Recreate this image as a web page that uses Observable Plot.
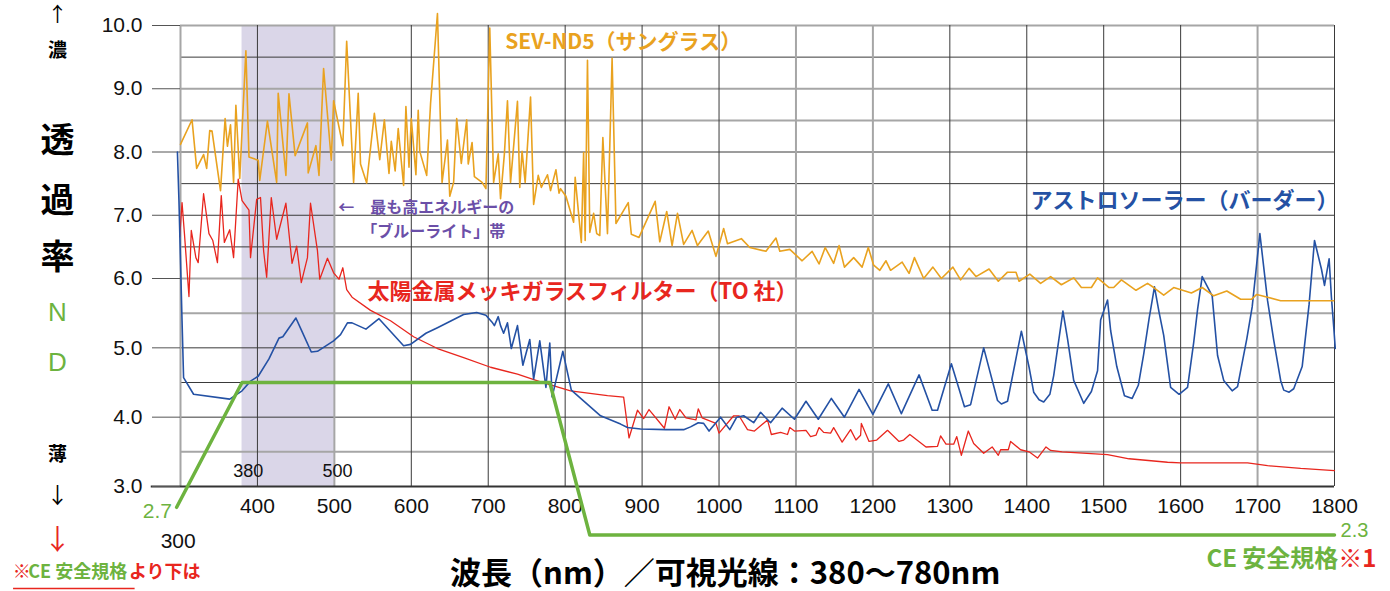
<!DOCTYPE html>
<html>
<head>
<meta charset="utf-8">
<script src="https://cdn.jsdelivr.net/npm/d3@7"></script>
<script src="https://cdn.jsdelivr.net/npm/@observablehq/plot@0.6"></script>
<style>
  html, body { margin: 0; padding: 0; background: #fff; }
  #chart svg { display: block; }
</style>
</head>
<body>
<div id="chart"></div>
<script>
// ---------- DATA ----------
// SEV-ND5 (sunglasses) – orange
const orangeNm = [300,315,321,330,334,338,341,352,358,361,365,369,372,377,385,389,401,403,413,425,427,437,441,449,465,466,476,480,486,496,499,511,516,525,531,534,542,552,559,565,571,574,579,583,590,593,597,600,606,609,611,620,625,634,640,647,650,655,659,665,672,674,679,682,692,697,702,707,713,716,721,725,729,738,741,744,748,755,759,765,769,777,781,788,792,794,801,811,813,821,824,826,829,832,837,841,845,849,855,861,866,882,886,896,917,923,932,939,946,954,965,972,976,986,996,1006,1011,1029,1040,1061,1074,1079,1092,1108,1121,1130,1138,1149,1156,1163,1175,1186,1194,1201,1209,1217,1223,1238,1247,1254,1266,1278,1289,1304,1314,1325,1334,1351,1363,1375,1386,1390,1404,1418,1431,1445,1461,1471,1484,1492,1507,1513,1523,1542,1557,1565,1578,1591,1614,1628,1643,1660,1678,1692,1699,1713,1730,1799];
const orangeNd = [8.12,8.51,7.74,7.96,7.74,8.34,8.33,7.39,8.53,8.09,8.43,7.52,8.74,7.58,9.60,7.92,7.87,7.55,8.49,7.52,8.93,7.63,8.92,7.94,8.46,7.67,8.10,7.63,9.32,7.87,8.81,8.10,9.75,7.52,8.93,7.81,7.51,8.61,7.88,8.51,7.66,8.17,7.70,8.37,7.47,8.72,7.76,8.53,7.64,8.66,8.01,7.63,8.76,10.19,7.52,8.19,7.30,7.52,8.53,7.82,8.51,7.81,8.15,7.61,7.52,7.42,9.96,7.52,7.97,7.26,7.97,8.81,7.52,8.80,7.44,8.01,7.52,8.87,7.17,7.63,7.44,7.64,7.39,7.72,7.35,7.42,7.30,6.89,7.60,6.57,7.99,6.60,9.45,6.73,7.03,6.71,6.68,8.23,6.71,9.48,6.87,7.20,6.70,6.65,7.22,6.58,7.06,6.52,7.03,6.54,6.76,6.52,6.59,6.75,6.35,6.79,6.55,6.63,6.49,6.43,6.64,6.43,6.46,6.28,6.43,6.23,6.49,6.24,6.52,6.18,6.33,6.18,6.49,6.21,6.13,6.28,6.13,6.26,6.08,6.33,6.00,6.18,6.00,6.18,5.98,6.16,6.03,6.15,5.96,6.10,6.10,5.96,6.07,5.93,6.03,5.91,6.01,5.87,5.87,6.01,5.87,5.87,5.98,5.83,5.93,5.87,5.76,5.87,5.79,5.87,5.75,5.82,5.70,5.70,5.77,5.73,5.68,5.68];

// アストロソーラー (Baader) – blue
const blueNm = [296,298,300,302,304,317,364,380,391,401,415,428,433,450,457,470,478,499,508,517,523,541,558,590,599,619,634,668,685,697,705,708,713,716,720,725,730,738,745,754,759,767,775,780,783,797,808,846,872,881,898,931,954,963,973,980,987,1002,1014,1023,1032,1045,1054,1067,1082,1098,1113,1129,1146,1163,1182,1200,1220,1237,1260,1277,1284,1302,1319,1327,1344,1362,1367,1375,1393,1403,1409,1416,1422,1430,1435,1447,1453,1461,1474,1484,1492,1496,1505,1509,1517,1527,1537,1545,1552,1559,1566,1572,1578,1587,1598,1609,1617,1622,1628,1641,1648,1656,1667,1674,1686,1693,1703,1713,1721,1730,1734,1741,1747,1758,1767,1774,1783,1787,1793,1796,1799,1801];
const blueNd = [8.00,7.23,6.28,5.39,4.57,4.33,4.26,4.38,4.52,4.59,4.84,5.14,5.16,5.43,5.26,4.94,4.95,5.10,5.19,5.36,5.36,5.27,5.42,5.03,5.05,5.21,5.29,5.48,5.51,5.47,5.37,5.32,5.45,5.32,5.21,5.36,4.99,5.32,4.75,5.12,4.55,5.10,4.43,5.07,4.29,4.95,4.39,4.02,3.90,3.85,3.83,3.82,3.82,3.86,3.92,3.91,3.80,4.00,3.82,4.00,4.02,3.92,4.07,3.92,4.13,3.97,4.23,3.97,4.27,4.00,4.40,4.04,4.48,4.05,4.61,4.10,4.10,4.77,4.15,4.18,5.00,4.24,4.19,4.23,5.24,4.72,4.36,4.25,4.22,4.33,4.60,5.53,5.13,4.53,4.20,4.37,4.67,5.40,5.69,5.25,4.73,4.31,4.27,4.46,4.91,5.42,5.88,5.51,5.18,4.43,4.33,4.43,5.08,5.55,6.03,5.75,4.89,4.53,4.38,4.44,5.13,5.59,6.71,5.68,5.11,4.53,4.39,4.36,4.41,4.73,5.63,6.60,6.15,5.90,6.31,5.73,5.30,4.99];

// 太陽金属メッキガラスフィルター (TO社) – red
const redNm = [299,302,305,311,314,320,323,330,337,342,348,353,357,364,369,375,380,389,391,399,404,408,412,418,425,437,445,451,457,465,469,478,481,491,499,506,511,516,523,547,573,603,634,668,703,738,768,807,855,876,883,894,902,909,929,935,943,949,957,970,973,978,996,1000,1019,1026,1037,1046,1063,1068,1080,1089,1092,1098,1113,1119,1126,1130,1136,1145,1149,1160,1171,1178,1184,1185,1195,1205,1219,1234,1240,1248,1269,1284,1288,1295,1305,1309,1315,1324,1331,1344,1355,1363,1366,1376,1379,1392,1403,1414,1425,1431,1446,1505,1533,1583,1600,1687,1713,1756,1800];
const redNd = [6.66,7.20,6.73,5.74,6.76,6.33,6.25,7.34,6.71,6.60,6.25,7.31,6.57,6.77,6.33,7.57,7.23,7.08,6.33,7.25,7.28,6.44,6.02,7.28,6.62,7.19,6.24,6.51,5.94,6.33,7.19,6.44,5.99,6.32,6.09,5.99,6.17,5.84,5.73,5.54,5.39,5.16,4.99,4.86,4.72,4.62,4.51,4.38,4.31,4.29,3.70,4.10,3.98,4.11,3.84,4.15,3.97,4.11,3.99,3.96,4.12,3.99,3.91,3.77,4.02,4.02,3.82,3.80,3.96,3.75,3.78,3.75,3.85,3.80,3.81,3.72,3.74,3.85,3.78,3.77,3.85,3.64,3.82,3.67,3.74,3.91,3.65,3.67,3.81,3.65,3.67,3.75,3.57,3.58,3.73,3.61,3.61,3.72,3.45,3.80,3.62,3.48,3.57,3.45,3.53,3.53,3.65,3.53,3.50,3.41,3.57,3.52,3.50,3.46,3.40,3.35,3.34,3.34,3.30,3.26,3.23];

// CE safety standard outline – green
const ceNm = [295, 380, 780, 832, 1800];
const ceNd = [2.7, 4.5, 4.5, 2.3, 2.3];

// Blue-light band
const bandNm = [380, 500];

// Axis ticks and grid
const xTicks = [400,500,600,700,800,900,1000,1100,1200,1300,1400,1500,1600,1700,1800];
const yTicks = [3,4,5,6,7,8,9,10];
const xGridDark = [400,600,700,800,900,1000,1300,1400,1500,1600,1800];
const xGridLight = [300,500,1100,1200,1700];
const yGridDark = [3,4,4.5,5,6.5,7,7.5,8,9.5];
const yGridLight = [3.5,5.5,6,8.5,9,10];

// ---------- CHART ----------
const CJK = "'Noto Sans CJK JP', 'Noto Sans', sans-serif";
const NUM = "'Liberation Sans', Arial, sans-serif";
const ORANGE = "#e9a21f", RED = "#e8261e", BLUE = "#2451a4", GREEN = "#6db33f", PURPLE = "#6b4fa8";

const pts = (xs, ys) => xs.map((x, i) => ({x, y: ys[i]}));

function label(text, x, y, opts) {
  return Plot.text([text], Object.assign({x, y, text: d => d, fontFamily: CJK, lineAnchor: "middle"}, opts));
}

const chart = Plot.plot({
  width: 1390,
  height: 591,
  marginLeft: 180,
  marginRight: 56,
  marginTop: 25,
  marginBottom: 105,
  x: {type: "linear", domain: [300, 1800], range: [180, 1334]},
  y: {type: "linear", domain: [3, 6, 10], range: [486, 278, 25]},
  style: {background: "#fff", overflow: "visible"},
  marks: [
    Plot.rect([bandNm], {x1: d => d[0], x2: d => d[1], y1: 3, y2: 10, fill: "#dad6e8"}),
    Plot.ruleY(yGridDark, {stroke: "#3a3a3a", strokeWidth: 1}),
    Plot.ruleY(yGridLight, {stroke: "#a6a6a6", strokeWidth: 2}),
    Plot.ruleX(xGridDark, {y1: 3, y2: 10, stroke: "#3a3a3a", strokeWidth: 1}),
    Plot.ruleX(xGridLight, {y1: 3, y2: 10, stroke: "#a6a6a6", strokeWidth: 2}),
    Plot.ruleY([3], {x1: 262, x2: 1800, stroke: "#333", strokeWidth: 2}),
    Plot.axisY(yTicks, {tickSize: 28, tickPadding: 10, tickFormat: d3.format(".1f"), fontSize: 21, fontFamily: NUM, stroke: "#555", fill: "#111", label: null}),
    Plot.axisX(xTicks, {tickSize: 0, tickPadding: 12, tickFormat: d => String(d), fontSize: 21, fontFamily: NUM, fill: "#111", label: null}),
    Plot.line(pts(redNm, redNd), {x: "x", y: "y", stroke: RED, strokeWidth: 1.3}),
    Plot.line(pts(blueNm, blueNd), {x: "x", y: "y", stroke: BLUE, strokeWidth: 1.6}),
    Plot.line(pts(orangeNm, orangeNd), {x: "x", y: "y", stroke: ORANGE, strokeWidth: 1.6}),
    Plot.line(pts(ceNm, ceNd), {x: "x", y: "y", stroke: GREEN, strokeWidth: 3.5}),

    // series labels
    label("SEV-ND5（サングラス）", 722, 9.73, {textAnchor: "start", fill: ORANGE, fontSize: 21, fontWeight: "bold"}),
    label("アストロソーラー（バーダー）", 1405, 7.23, {textAnchor: "start", fill: BLUE, fontSize: 22, fontWeight: "bold"}),
    label("太陽金属メッキガラスフィルター（TO 社）", 543, 5.80, {textAnchor: "start", fill: RED, fontSize: 22, fontWeight: "bold"}),
    label("←　最も高エネルギーの", 505, 7.12, {textAnchor: "start", fill: PURPLE, fontSize: 16, fontWeight: "bold"}),
    label("「ブルーライト」帯", 535, 6.73, {textAnchor: "start", fill: PURPLE, fontSize: 16, fontWeight: "bold"}),
    label("380", 388, 3.22, {fontFamily: NUM, fontSize: 18, fill: "#111"}),
    label("500", 504, 3.22, {fontFamily: NUM, fontSize: 18, fill: "#111"}),
    label("300", 297, 2.21, {fontFamily: NUM, fontSize: 21, fill: "#111"}),
    label("2.7", 270, 2.65, {fontFamily: NUM, fontSize: 21, fill: GREEN}),
    label("2.3", 1826, 2.37, {fontFamily: NUM, fontSize: 20, fill: GREEN}),
    label("CE 安全規格", 1805, 1.95, {textAnchor: "end", fill: GREEN, fontSize: 24, fontWeight: "bold"}),
    label("※1", 1805, 1.95, {textAnchor: "start", fill: RED, fontSize: 24, fontWeight: "bold"}),
    label("波長（nm）／可視光線：380〜780nm", 1008, 1.74, {fill: "#000", fontSize: 31, fontWeight: "bold"}),

    // left-hand vertical legend
    label("↑", 140, 10.16, {fill: "#000", fontSize: 20}),
    label("濃", 140, 9.60, {fill: "#000", fontSize: 19, fontWeight: "bold"}),
    label("透", 140, 8.18, {fill: "#000", fontSize: 34, fontWeight: "bold"}),
    label("過", 140, 7.23, {fill: "#000", fontSize: 34, fontWeight: "bold"}),
    label("率", 140, 6.33, {fill: "#000", fontSize: 34, fontWeight: "bold"}),
    label("N", 140, 5.51, {fill: GREEN, fontSize: 26, fontFamily: NUM}),
    label("D", 140, 4.78, {fill: GREEN, fontSize: 26, fontFamily: NUM}),
    label("薄", 140, 3.46, {fill: "#000", fontSize: 19, fontWeight: "bold"}),
    label("↓", 140, 2.86, {fill: "#000", fontSize: 22}),
    label("↓", 140, 2.22, {fill: RED, fontSize: 28}),
    label("※", 82, 1.76, {textAnchor: "start", fill: RED, fontSize: 18, fontWeight: "bold"}),
    label("CE 安全規格", 102, 1.76, {textAnchor: "start", fill: GREEN, fontSize: 18, fontWeight: "bold"}),
    label("より下は", 233, 1.76, {textAnchor: "start", fill: RED, fontSize: 18, fontWeight: "bold"}),
    Plot.ruleY([1.53], {x1: 83, x2: 241, stroke: RED, strokeWidth: 1.5})
  ]
});

document.getElementById("chart").appendChild(chart);
</script>
</body>
</html>
